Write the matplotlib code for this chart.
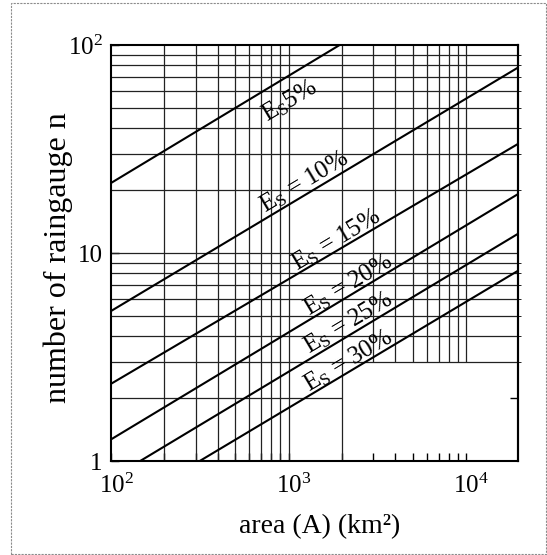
import numpy as np
import matplotlib
matplotlib.use("Agg")
import matplotlib.pyplot as plt
from matplotlib.patches import Rectangle
from matplotlib.transforms import ScaledTranslation

plt.rcParams['font.family'] = ['Liberation Serif', 'DejaVu Serif']
plt.rcParams['mathtext.fontset'] = 'custom'
plt.rcParams['mathtext.rm'] = 'Liberation Serif'
plt.rcParams['mathtext.it'] = 'Liberation Serif:italic'

# curves: end points (area km2, number of gauges)
es_labels = ['E$_\\mathregular{S}$5%', 'E$_\\mathregular{S}$ = 10%', 'E$_\\mathregular{S}$ = 15%',
             'E$_\\mathregular{S}$ = 20%', 'E$_\\mathregular{S}$ = 25%', 'E$_\\mathregular{S}$ = 30%']
line_x = [[100, 1940], [100, 20000], [100, 20000], [100, 20000], [146, 20000], [316, 20000]]
line_y = [[21.7, 100], [5.26, 78.7], [2.35, 33.8], [1.27, 19.4], [1.0, 12.5], [1.0, 8.3]]
label_x = [1013, 1230, 1862, 2173, 2173, 2173]
label_y = [53.8, 21.9, 11.5, 7.02, 4.61, 3.03]

# grid of the log paper
grid_x_full = [200, 300, 400, 500, 600, 700, 800, 900, 1000, 2000]
grid_x_part = [3000, 4000, 5000, 6000, 7000, 8000, 9000, 10000]
grid_y = [3, 4, 5, 6, 7, 8, 9, 10, 20, 30, 40, 50, 60, 70, 80, 90]
x_ticks = [100, 1000, 10000]
x_ticklabels = ['$\\mathregular{10^2}$', '$\\mathregular{10^3}$', '$\\mathregular{10^4}$']
y_ticks = [1, 10, 100]
y_ticklabels = ['1', '10', '$\\mathregular{10^2}$']

fig = plt.figure(figsize=(5.47, 5.55), dpi=100)
ax = fig.add_axes([111 / 547, 1 - 461 / 555, 407 / 547, 416 / 555])
ax.set_xscale('log')
ax.set_yscale('log')
ax.set_xlim(100, 19600)
ax.set_ylim(1, 100)

gc = '#222222'
ax.vlines(grid_x_full, 1, 100, color=gc, lw=0.9)
ax.vlines(grid_x_part, 3, 100, color=gc, lw=0.9)
ax.hlines(grid_y, 100, 19600, color=gc, lw=0.9)
ax.hlines([2], 100, 2000, color=gc, lw=0.9)

for xs, ys in zip(line_x, line_y):
    ax.plot(xs, ys, color='black', lw=1.5, solid_capstyle='butt')

# rotation of the curves on screen
p = ax.transData.transform([(line_x[1][0], line_y[1][0]), (line_x[1][1], line_y[1][1])])
ang = np.degrees(np.arctan2(p[1][1] - p[0][1], p[1][0] - p[0][0]))
for lab, tx, ty in zip(es_labels, label_x, label_y):
    ax.text(tx, ty, lab, fontsize=18, rotation=ang, rotation_mode='anchor',
            ha='center', va='center')

ax.set_xticks(x_ticks)
ax.set_xticklabels(x_ticklabels)
ax.set_xticks(grid_x_full + grid_x_part, minor=True)
ax.set_yticks(y_ticks)
ax.set_yticklabels(y_ticklabels)
ax.set_yticks([2, 3, 4, 5, 6, 7, 8, 9, 20, 30, 40, 50, 60, 70, 80, 90], minor=True)
ax.tick_params(which='both', direction='in', length=6, width=1, labelsize=18)
ax.tick_params(axis='x', pad=9)
ax.tick_params(axis='y', pad=6)
ax.tick_params(axis='y', which='minor', length=0)
ax.tick_params(axis='x', which='minor', labelbottom=False)
ax.yaxis.set_minor_formatter(plt.NullFormatter())
# the "10" sits over the tick, the exponent hangs to the right
shift = ScaledTranslation(0.05, 0, fig.dpi_scale_trans)
for t in ax.get_xticklabels():
    t.set_transform(t.get_transform() + shift)
for s in ax.spines.values():
    s.set_linewidth(1.5)

sec = ax.secondary_yaxis('right')
sec.set_yticks([2])
sec.set_yticklabels([''])
sec.tick_params(direction='in', length=6, width=1)
sec.spines['right'].set_linewidth(1.5)

fig.text(320 / 547, 1 - 527 / 555, 'area (A) (km²)', fontsize=20,
         ha='center', va='center')
fig.text(58 / 547, 1 - 258 / 555, 'number of raingauge n', fontsize=23,
         rotation=90, ha='center', va='center')

fig.patches.append(Rectangle((11 / 547, 1 / 555), 535 / 547, 551 / 555, transform=fig.transFigure,
                             fill=False, ec='0.55', lw=0.8, ls=(0, (2, 1))))

fig.savefig('out.png', dpi=100)
